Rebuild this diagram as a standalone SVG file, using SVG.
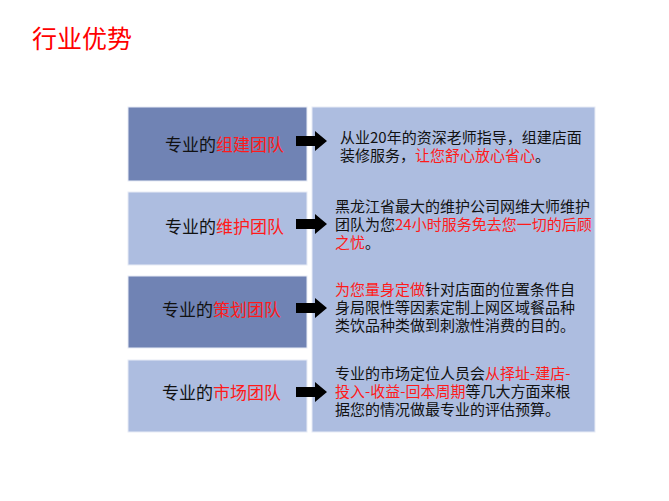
<svg xmlns="http://www.w3.org/2000/svg" width="669" height="501" viewBox="0 0 669 501">
<style>
.dark{fill:#7083b4;stroke:#e8ecf6;stroke-width:1}
.light{fill:#adbde0;stroke:#e8ecf6;stroke-width:1}
.lbl{font-family:"Noto Sans CJK SC","Liberation Sans",sans-serif;font-size:17px;fill:#111}
.txt{font-family:"Noto Sans CJK SC","Liberation Sans",sans-serif;font-size:15px;fill:#111}
.red{fill:#ff1a1a}
.arrow{fill:#000}
</style>
<defs>
<path id="arr" d="M0,-5 H19 V-10 L31,0 L19,10 V5 H0 Z"/>
</defs>
<rect width="669" height="501" fill="#fff"/>
<text x="32" y="48" font-family="'Noto Sans CJK SC','Liberation Sans',sans-serif" font-size="25" fill="#ff0000">行业优势</text>
<g id="panel">
<rect class="light" x="312" y="107" width="283" height="325"/>
</g>
<g id="node1">
<rect class="dark" x="128" y="107" width="179" height="74"/>
<text class="lbl" x="165" y="151">专业的<tspan class="red">组建团队</tspan></text>
</g>
<g id="node2">
<rect class="light" x="128" y="192" width="179" height="73"/>
<text class="lbl" x="165" y="233">专业的<tspan class="red">维护团队</tspan></text>
</g>
<g id="node3">
<rect class="dark" x="128" y="276" width="179" height="72"/>
<text class="lbl" x="162" y="316">专业的<tspan class="red">策划团队</tspan></text>
</g>
<g id="node4">
<rect class="light" x="128" y="360" width="179" height="72"/>
<text class="lbl" x="162" y="399">专业的<tspan class="red">市场团队</tspan></text>
</g>
<g id="desc1">
<text class="txt" x="340" y="143">从业20年的资深老师指导，组建店面</text>
<text class="txt" x="340" y="161">装修服务，<tspan class="red">让您舒心放心省心</tspan>。</text>
</g>
<g id="desc2">
<text class="txt" x="335" y="212">黑龙江省最大的维护公司网维大师维护</text>
<text class="txt" x="335" y="230">团队为您<tspan class="red">24小时服务免去您一切的后顾</tspan></text>
<text class="txt" x="335" y="248"><tspan class="red">之忧</tspan>。</text>
</g>
<g id="desc3">
<text class="txt" x="335" y="295"><tspan class="red">为您量身定做</tspan>针对店面的位置条件自</text>
<text class="txt" x="335" y="313">身局限性等因素定制上网区域餐品种</text>
<text class="txt" x="335" y="331">类饮品种类做到刺激性消费的目的。</text>
</g>
<g id="desc4">
<text class="txt" x="335" y="379">专业的市场定位人员会<tspan class="red">从择址-建店-</tspan></text>
<text class="txt" x="335" y="397"><tspan class="red">投入-收益-回本周期</tspan>等几大方面来根</text>
<text class="txt" x="335" y="415">据您的情况做最专业的评估预算。</text>
</g>
<g id="connectors" class="arrow">
<use href="#arr" x="296" y="141"/>
<use href="#arr" x="296" y="224"/>
<use href="#arr" x="296" y="308"/>
<use href="#arr" x="296" y="392"/>
</g>
</svg>
